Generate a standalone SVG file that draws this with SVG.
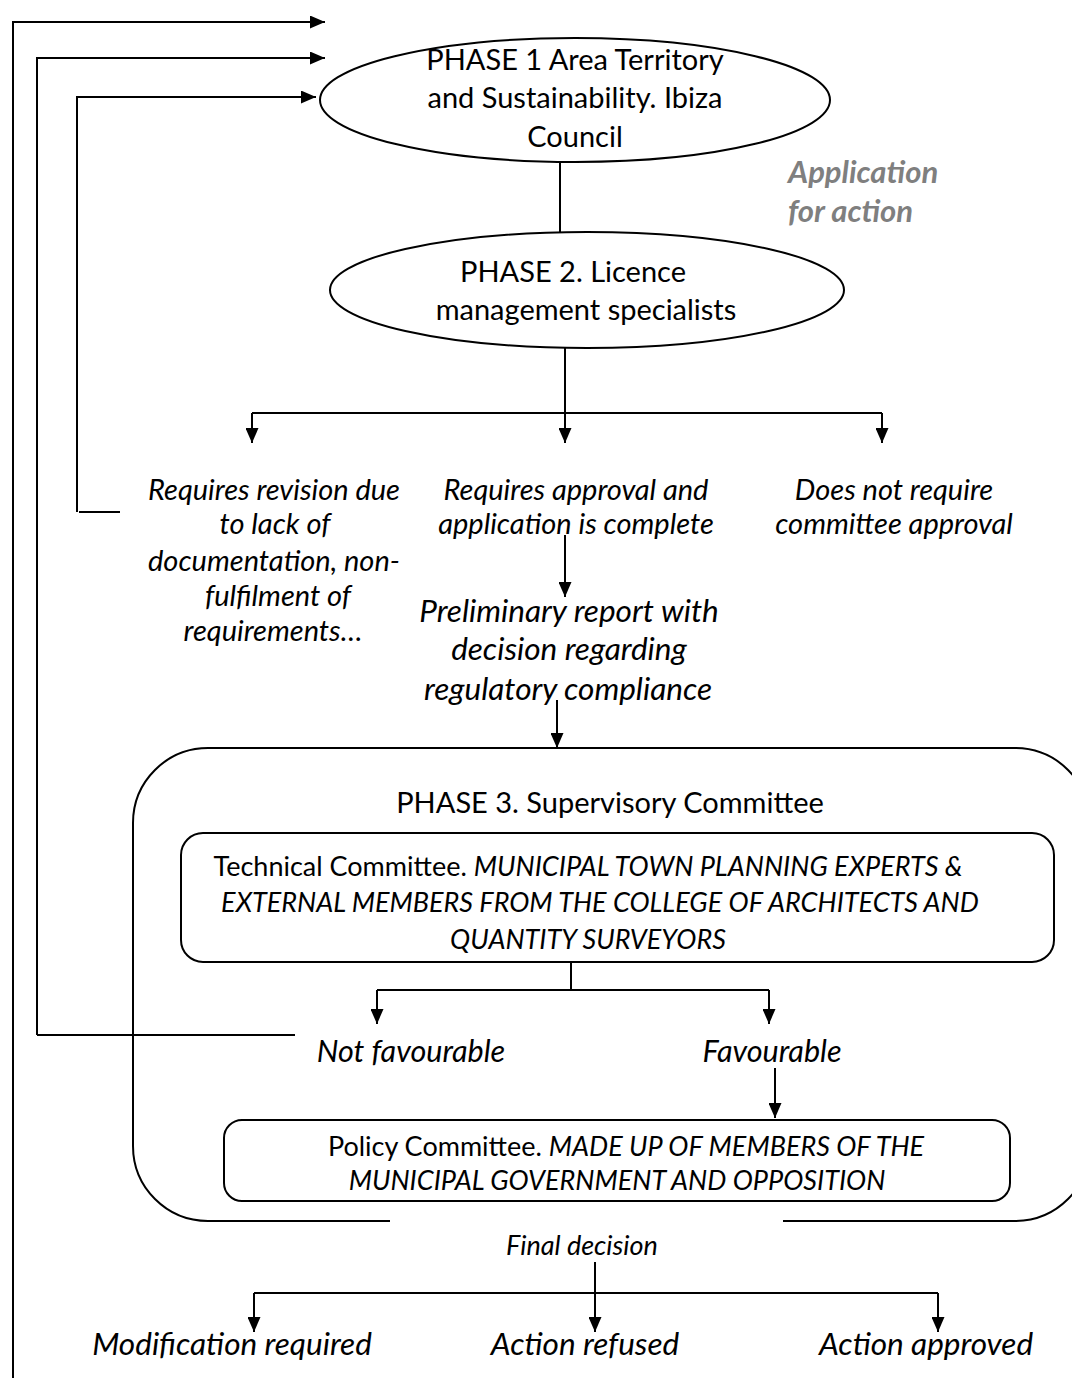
<svg xmlns="http://www.w3.org/2000/svg" width="1072" height="1378" viewBox="0 0 1072 1378">
<defs>
<marker id="ah" viewBox="0 0 15 13" refX="15" refY="6.5" markerWidth="15" markerHeight="13" markerUnits="userSpaceOnUse" orient="auto">
<path d="M0,0 L15,6.5 L0,13 Z" fill="#000"/>
</marker>
<style>
text{font-family:Lato,"Open Sans","Liberation Sans",sans-serif;fill:#000;text-anchor:middle}
.n{font-size:29px}
.i{font-size:29px;font-style:italic}
.f{font-size:30.5px;font-style:italic}
.b{font-size:31.5px;font-style:italic}
.s{font-size:27px}
.gr{font-size:31px;font-style:italic;font-weight:bold;fill:#7f7f7f;text-anchor:start}
.fd{font-size:27px;font-style:italic}
.ln{fill:none;stroke:#000;stroke-width:2}
.ar{fill:none;stroke:#000;stroke-width:2;marker-end:url(#ah)}
.sh{fill:#fff;stroke:#000;stroke-width:2}
</style>
</defs>
<rect width="1072" height="1378" fill="#fff"/>

<g id="connectors">
<path class="ar" d="M13,1378 V22 H325"/>
<path class="ar" d="M37,1035 V58 H325"/>
<path class="ar" d="M77,512 V97 H316"/>
<path class="ln" d="M79,512 H120"/>
<path class="ln" d="M37,1035 H295"/>
<path class="ln" d="M560,163 V232"/>
<path class="ar" d="M565,348 V443"/>
<path class="ln" d="M252,413 H882"/>
<path class="ar" d="M252,413 V443"/>
<path class="ar" d="M882,413 V443"/>
<path class="ar" d="M565,535 V597"/>
<path class="ar" d="M557,700 V748"/>
<path class="ln" d="M571,962 V990"/>
<path class="ln" d="M377,990 H769"/>
<path class="ar" d="M377,990 V1024"/>
<path class="ar" d="M769,990 V1024"/>
<path class="ar" d="M775,1068 V1118"/>
<path class="ar" d="M595,1262 V1332"/>
<path class="ln" d="M254,1293 H938"/>
<path class="ar" d="M254,1293 V1332"/>
<path class="ar" d="M938,1293 V1332"/>
</g>

<g id="phase1">
<ellipse class="sh" cx="575" cy="100" rx="255" ry="62"/>
<text class="n" x="575" y="70">PHASE 1 Area Territory</text>
<text class="n" x="575" y="108">and Sustainability. Ibiza</text>
<text class="n" x="575" y="147">Council</text>
</g>

<g id="application-label">
<text class="gr" x="788" y="183">Application</text>
<text class="gr" x="788" y="222">for action</text>
</g>

<g id="phase2">
<ellipse class="sh" cx="587" cy="290" rx="257" ry="58"/>
<text class="n" x="573" y="282">PHASE 2. Licence</text>
<text class="n" x="586" y="320">management specialists</text>
</g>

<g id="revision">
<text class="i" x="274" y="500">Requires revision due</text>
<text class="i" x="275" y="534">to lack of</text>
<text class="i" x="274" y="571">documentation, non-</text>
<text class="i" x="278" y="606">fulfilment of</text>
<text class="i" x="273" y="641">requirements…</text>
</g>

<g id="approval-complete">
<text class="i" x="576" y="500">Requires approval and</text>
<text class="i" x="576" y="534">application is complete</text>
</g>

<g id="no-committee">
<text class="i" x="894" y="500">Does not require</text>
<text class="i" x="894" y="534">committee approval</text>
</g>

<g id="preliminary">
<text class="b" x="569" y="622">Preliminary report with</text>
<text class="b" x="569" y="660">decision regarding</text>
<text class="b" x="568" y="700">regulatory compliance</text>
</g>

<g id="phase3">
<path class="ln" d="M390,1221 H208 A75,75 0 0 1 133,1146 V823 A75,75 0 0 1 208,748 H1015 A75,75 0 0 1 1090,823 V1146 A75,75 0 0 1 1015,1221 H783"/>
<text class="n" x="610" y="813">PHASE 3. Supervisory Committee</text>
</g>

<g id="technical">
<rect class="sh" x="181" y="833" width="873" height="129" rx="22"/>
<text class="s" x="588" y="876">Technical Committee. <tspan font-style="italic">MUNICIPAL TOWN PLANNING EXPERTS &amp;</tspan></text>
<text class="s" font-style="italic" x="600" y="912">EXTERNAL MEMBERS FROM THE COLLEGE OF ARCHITECTS AND</text>
<text class="s" font-style="italic" x="588" y="949">QUANTITY SURVEYORS</text>
</g>

<g id="not-favourable">
<text class="f" x="411" y="1062">Not favourable</text>
</g>
<g id="favourable">
<text class="f" x="772" y="1062">Favourable</text>
</g>

<g id="policy">
<rect class="sh" x="224" y="1120" width="786" height="81" rx="18"/>
<text class="s" x="626" y="1156">Policy Committee. <tspan font-style="italic">MADE UP OF MEMBERS OF THE</tspan></text>
<text class="s" font-style="italic" x="617" y="1190">MUNICIPAL GOVERNMENT AND OPPOSITION</text>
</g>

<g id="final-decision">
<text class="fd" x="582" y="1255">Final decision</text>
</g>

<g id="modification"><text class="b" x="232" y="1355">Modification required</text></g>
<g id="refused"><text class="b" x="585" y="1355">Action refused</text></g>
<g id="approved"><text class="b" x="926" y="1355">Action approved</text></g>
</svg>
